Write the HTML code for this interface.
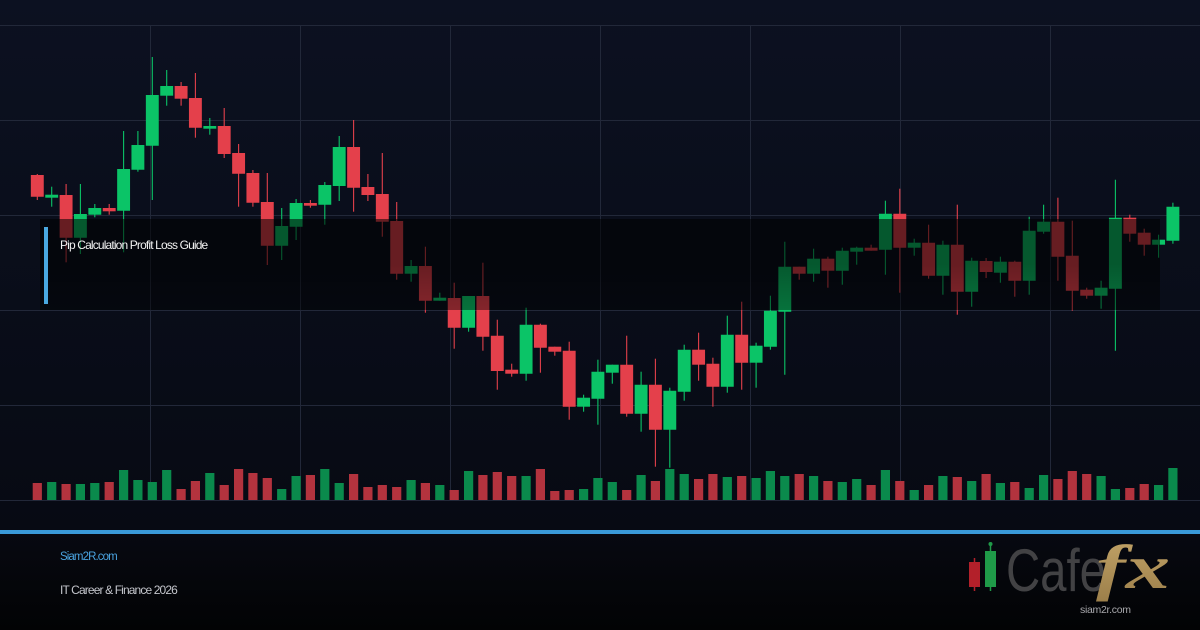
<!DOCTYPE html>
<html><head><meta charset="utf-8"><style>
html,body{margin:0;padding:0;background:#070a12;}
svg{display:block}
.u{fill:#0bc467;stroke:#0bc467;stroke-width:0}
.d{fill:#e4404b;stroke:#e4404b;stroke-width:0}
.u .w,.d .w{stroke-width:1.1;fill:none}
.vu{fill:#0a8a4c}
.vd{fill:#b3333e}
</style></head><body>
<svg width="1200" height="630" viewBox="0 0 1200 630" xmlns="http://www.w3.org/2000/svg">
<defs>
<linearGradient id="bg" x1="0" y1="0" x2="0" y2="1">
<stop offset="0" stop-color="#0c1121"/><stop offset="1" stop-color="#070a13"/>
</linearGradient>
<linearGradient id="ft" x1="0" y1="0" x2="0" y2="1">
<stop offset="0" stop-color="#070911"/><stop offset="1" stop-color="#020304"/>
</linearGradient>
<linearGradient id="ov" x1="0" y1="0" x2="0" y2="1">
<stop offset="0" stop-color="#000" stop-opacity="0.55"/><stop offset="0.5" stop-color="#000" stop-opacity="0.55"/><stop offset="1" stop-color="#000" stop-opacity="0.42"/>
</linearGradient>
<linearGradient id="gold" x1="0" y1="0" x2="0" y2="1">
<stop offset="0" stop-color="#c2a468"/><stop offset="1" stop-color="#9c7f4a"/>
</linearGradient>
</defs>
<rect x="0" y="0" width="1200" height="530" fill="url(#bg)"/>
<rect x="0" y="534" width="1200" height="96" fill="url(#ft)"/>
<rect x="0" y="530" width="1200" height="4" fill="#3a9ad9"/>
<g stroke="#222839" stroke-width="1" fill="none">
<path d="M0 25.5H1200M0 120.5H1200M0 215.5H1200M0 310.5H1200M0 405.5H1200M0 500.5H1200"/>
<path d="M150.5 25V500M300.5 25V500M450.5 25V500M600.5 25V500M750.5 25V500M900.5 25V500M1050.5 25V500"/>
</g>
<g>
<g class="d" transform="translate(37.3)"><path class="w" d="M0 174V200"/><path d="M-6.45 175H6.45V196.7H-6.45Z"/><path class="vd" d="M-4.6 483H4.6V500H-4.6Z"/></g>
<g class="u" transform="translate(51.7)"><path class="w" d="M0 186.7V206.7"/><path d="M-6.45 194.7H6.45V197.7H-6.45Z"/><path class="vu" d="M-4.6 482H4.6V500H-4.6Z"/></g>
<g class="d" transform="translate(66.1)"><path class="w" d="M0 184V262.3"/><path d="M-6.45 195H6.45V237.7H-6.45Z"/><path class="vd" d="M-4.6 484H4.6V500H-4.6Z"/></g>
<g class="u" transform="translate(80.4)"><path class="w" d="M0 184V254"/><path d="M-6.45 214H6.45V237.7H-6.45Z"/><path class="vu" d="M-4.6 484H4.6V500H-4.6Z"/></g>
<g class="u" transform="translate(94.8)"><path class="w" d="M0 204V217.3"/><path d="M-6.45 208H6.45V214.7H-6.45Z"/><path class="vu" d="M-4.6 483H4.6V500H-4.6Z"/></g>
<g class="d" transform="translate(109.2)"><path class="w" d="M0 204V214.7"/><path d="M-6.45 208H6.45V211.3H-6.45Z"/><path class="vd" d="M-4.6 482H4.6V500H-4.6Z"/></g>
<g class="u" transform="translate(123.6)"><path class="w" d="M0 131V252.3"/><path d="M-6.45 169H6.45V210.7H-6.45Z"/><path class="vu" d="M-4.6 470H4.6V500H-4.6Z"/></g>
<g class="u" transform="translate(137.9)"><path class="w" d="M0 131V171.7"/><path d="M-6.45 145H6.45V169.7H-6.45Z"/><path class="vu" d="M-4.6 480H4.6V500H-4.6Z"/></g>
<g class="u" transform="translate(152.3)"><path class="w" d="M0 57V200"/><path d="M-6.45 95H6.45V145.7H-6.45Z"/><path class="vu" d="M-4.6 482H4.6V500H-4.6Z"/></g>
<g class="u" transform="translate(166.7)"><path class="w" d="M0 70V105.7"/><path d="M-6.45 86H6.45V95.7H-6.45Z"/><path class="vu" d="M-4.6 470H4.6V500H-4.6Z"/></g>
<g class="d" transform="translate(181.1)"><path class="w" d="M0 82V105.7"/><path d="M-6.45 86H6.45V98.7H-6.45Z"/><path class="vd" d="M-4.6 489H4.6V500H-4.6Z"/></g>
<g class="d" transform="translate(195.4)"><path class="w" d="M0 73V137.7"/><path d="M-6.45 98H6.45V127.7H-6.45Z"/><path class="vd" d="M-4.6 481H4.6V500H-4.6Z"/></g>
<g class="u" transform="translate(209.8)"><path class="w" d="M0 118V134.7"/><path d="M-6.45 126H6.45V128.7H-6.45Z"/><path class="vu" d="M-4.6 473H4.6V500H-4.6Z"/></g>
<g class="d" transform="translate(224.2)"><path class="w" d="M0 108V158"/><path d="M-6.45 126H6.45V154H-6.45Z"/><path class="vd" d="M-4.6 485H4.6V500H-4.6Z"/></g>
<g class="d" transform="translate(238.6)"><path class="w" d="M0 144V206.7"/><path d="M-6.45 153H6.45V173.7H-6.45Z"/><path class="vd" d="M-4.6 469H4.6V500H-4.6Z"/></g>
<g class="d" transform="translate(252.9)"><path class="w" d="M0 170V206.7"/><path d="M-6.45 173H6.45V202.7H-6.45Z"/><path class="vd" d="M-4.6 473H4.6V500H-4.6Z"/></g>
<g class="d" transform="translate(267.3)"><path class="w" d="M0 173V265"/><path d="M-6.45 202H6.45V245.7H-6.45Z"/><path class="vd" d="M-4.6 478H4.6V500H-4.6Z"/></g>
<g class="u" transform="translate(281.7)"><path class="w" d="M0 208V260"/><path d="M-6.45 226H6.45V245.7H-6.45Z"/><path class="vu" d="M-4.6 489H4.6V500H-4.6Z"/></g>
<g class="u" transform="translate(296.1)"><path class="w" d="M0 199V240"/><path d="M-6.45 203H6.45V226.7H-6.45Z"/><path class="vu" d="M-4.6 476H4.6V500H-4.6Z"/></g>
<g class="d" transform="translate(310.4)"><path class="w" d="M0 200V207.7"/><path d="M-6.45 203H6.45V205.7H-6.45Z"/><path class="vd" d="M-4.6 475H4.6V500H-4.6Z"/></g>
<g class="u" transform="translate(324.8)"><path class="w" d="M0 182V224.7"/><path d="M-6.45 185H6.45V204.7H-6.45Z"/><path class="vu" d="M-4.6 469H4.6V500H-4.6Z"/></g>
<g class="u" transform="translate(339.2)"><path class="w" d="M0 136V201"/><path d="M-6.45 147H6.45V186H-6.45Z"/><path class="vu" d="M-4.6 483H4.6V500H-4.6Z"/></g>
<g class="d" transform="translate(353.6)"><path class="w" d="M0 120V211.7"/><path d="M-6.45 147H6.45V187.7H-6.45Z"/><path class="vd" d="M-4.6 474H4.6V500H-4.6Z"/></g>
<g class="d" transform="translate(367.9)"><path class="w" d="M0 174V201"/><path d="M-6.45 187H6.45V195H-6.45Z"/><path class="vd" d="M-4.6 487H4.6V500H-4.6Z"/></g>
<g class="d" transform="translate(382.3)"><path class="w" d="M0 153V236.7"/><path d="M-6.45 194H6.45V221.7H-6.45Z"/><path class="vd" d="M-4.6 485H4.6V500H-4.6Z"/></g>
<g class="d" transform="translate(396.7)"><path class="w" d="M0 202V279.7"/><path d="M-6.45 221H6.45V273.7H-6.45Z"/><path class="vd" d="M-4.6 487H4.6V500H-4.6Z"/></g>
<g class="u" transform="translate(411.1)"><path class="w" d="M0 260V281.7"/><path d="M-6.45 266H6.45V273.7H-6.45Z"/><path class="vu" d="M-4.6 480H4.6V500H-4.6Z"/></g>
<g class="d" transform="translate(425.4)"><path class="w" d="M0 246.7V312.7"/><path d="M-6.45 266H6.45V300.7H-6.45Z"/><path class="vd" d="M-4.6 483H4.6V500H-4.6Z"/></g>
<g class="u" transform="translate(439.8)"><path class="w" d="M0 292.7V300.7"/><path d="M-6.45 297.7H6.45V300.7H-6.45Z"/><path class="vu" d="M-4.6 485H4.6V500H-4.6Z"/></g>
<g class="d" transform="translate(454.2)"><path class="w" d="M0 282.7V348.7"/><path d="M-6.45 298H6.45V327.7H-6.45Z"/><path class="vd" d="M-4.6 490H4.6V500H-4.6Z"/></g>
<g class="u" transform="translate(468.6)"><path class="w" d="M0 296V331.7"/><path d="M-6.45 296H6.45V327.7H-6.45Z"/><path class="vu" d="M-4.6 471H4.6V500H-4.6Z"/></g>
<g class="d" transform="translate(482.9)"><path class="w" d="M0 262.7V350.7"/><path d="M-6.45 296H6.45V336.7H-6.45Z"/><path class="vd" d="M-4.6 475H4.6V500H-4.6Z"/></g>
<g class="d" transform="translate(497.3)"><path class="w" d="M0 319.7V389.7"/><path d="M-6.45 335.7H6.45V371H-6.45Z"/><path class="vd" d="M-4.6 472H4.6V500H-4.6Z"/></g>
<g class="d" transform="translate(511.7)"><path class="w" d="M0 363.7V376.7"/><path d="M-6.45 369.7H6.45V373.7H-6.45Z"/><path class="vd" d="M-4.6 476H4.6V500H-4.6Z"/></g>
<g class="u" transform="translate(526.1)"><path class="w" d="M0 307.7V380.7"/><path d="M-6.45 324.7H6.45V373.7H-6.45Z"/><path class="vu" d="M-4.6 476H4.6V500H-4.6Z"/></g>
<g class="d" transform="translate(540.4)"><path class="w" d="M0 323.7V372.7"/><path d="M-6.45 324.7H6.45V347.7H-6.45Z"/><path class="vd" d="M-4.6 469H4.6V500H-4.6Z"/></g>
<g class="d" transform="translate(554.8)"><path class="w" d="M0 346.7V355.7"/><path d="M-6.45 346.7H6.45V351.7H-6.45Z"/><path class="vd" d="M-4.6 491H4.6V500H-4.6Z"/></g>
<g class="d" transform="translate(569.2)"><path class="w" d="M0 341.7V419.7"/><path d="M-6.45 350.7H6.45V406.7H-6.45Z"/><path class="vd" d="M-4.6 490H4.6V500H-4.6Z"/></g>
<g class="u" transform="translate(583.6)"><path class="w" d="M0 394.7V411.7"/><path d="M-6.45 397.7H6.45V406.7H-6.45Z"/><path class="vu" d="M-4.6 489H4.6V500H-4.6Z"/></g>
<g class="u" transform="translate(597.9)"><path class="w" d="M0 359.7V424.7"/><path d="M-6.45 371.7H6.45V398.7H-6.45Z"/><path class="vu" d="M-4.6 478H4.6V500H-4.6Z"/></g>
<g class="u" transform="translate(612.3)"><path class="w" d="M0 364.7V383.7"/><path d="M-6.45 364.7H6.45V372.7H-6.45Z"/><path class="vu" d="M-4.6 482H4.6V500H-4.6Z"/></g>
<g class="d" transform="translate(626.7)"><path class="w" d="M0 335.7V416.7"/><path d="M-6.45 364.7H6.45V413.7H-6.45Z"/><path class="vd" d="M-4.6 490H4.6V500H-4.6Z"/></g>
<g class="u" transform="translate(641.1)"><path class="w" d="M0 371.7V431.7"/><path d="M-6.45 384.7H6.45V413.7H-6.45Z"/><path class="vu" d="M-4.6 475H4.6V500H-4.6Z"/></g>
<g class="d" transform="translate(655.4)"><path class="w" d="M0 358.7V466.7"/><path d="M-6.45 384.7H6.45V429.7H-6.45Z"/><path class="vd" d="M-4.6 481H4.6V500H-4.6Z"/></g>
<g class="u" transform="translate(669.8)"><path class="w" d="M0 387.7V467.7"/><path d="M-6.45 390.7H6.45V429.7H-6.45Z"/><path class="vu" d="M-4.6 469H4.6V500H-4.6Z"/></g>
<g class="u" transform="translate(684.2)"><path class="w" d="M0 344.7V400.7"/><path d="M-6.45 349.7H6.45V391.7H-6.45Z"/><path class="vu" d="M-4.6 474H4.6V500H-4.6Z"/></g>
<g class="d" transform="translate(698.6)"><path class="w" d="M0 332.7V380.7"/><path d="M-6.45 349.7H6.45V364.7H-6.45Z"/><path class="vd" d="M-4.6 479H4.6V500H-4.6Z"/></g>
<g class="d" transform="translate(712.9)"><path class="w" d="M0 357.7V406.7"/><path d="M-6.45 363.7H6.45V386.7H-6.45Z"/><path class="vd" d="M-4.6 474H4.6V500H-4.6Z"/></g>
<g class="u" transform="translate(727.3)"><path class="w" d="M0 315.7V392.7"/><path d="M-6.45 334.7H6.45V386.7H-6.45Z"/><path class="vu" d="M-4.6 477H4.6V500H-4.6Z"/></g>
<g class="d" transform="translate(741.7)"><path class="w" d="M0 301.7V389.7"/><path d="M-6.45 334.7H6.45V362.7H-6.45Z"/><path class="vd" d="M-4.6 476H4.6V500H-4.6Z"/></g>
<g class="u" transform="translate(756.1)"><path class="w" d="M0 342.7V387.7"/><path d="M-6.45 345.7H6.45V362.7H-6.45Z"/><path class="vu" d="M-4.6 478H4.6V500H-4.6Z"/></g>
<g class="u" transform="translate(770.4)"><path class="w" d="M0 295.7V349.7"/><path d="M-6.45 310.7H6.45V346.7H-6.45Z"/><path class="vu" d="M-4.6 471H4.6V500H-4.6Z"/></g>
<g class="u" transform="translate(784.8)"><path class="w" d="M0 241.7V374.7"/><path d="M-6.45 266.7H6.45V311.7H-6.45Z"/><path class="vu" d="M-4.6 476H4.6V500H-4.6Z"/></g>
<g class="d" transform="translate(799.2)"><path class="w" d="M0 266.7V279.7"/><path d="M-6.45 266.7H6.45V273.7H-6.45Z"/><path class="vd" d="M-4.6 474H4.6V500H-4.6Z"/></g>
<g class="u" transform="translate(813.6)"><path class="w" d="M0 248.7V281.7"/><path d="M-6.45 258.7H6.45V273.7H-6.45Z"/><path class="vu" d="M-4.6 476H4.6V500H-4.6Z"/></g>
<g class="d" transform="translate(827.9)"><path class="w" d="M0 256.7V287.7"/><path d="M-6.45 258.7H6.45V270.7H-6.45Z"/><path class="vd" d="M-4.6 481H4.6V500H-4.6Z"/></g>
<g class="u" transform="translate(842.3)"><path class="w" d="M0 247.7V284.7"/><path d="M-6.45 250.7H6.45V270.7H-6.45Z"/><path class="vu" d="M-4.6 482H4.6V500H-4.6Z"/></g>
<g class="u" transform="translate(856.7)"><path class="w" d="M0 246.7V264.7"/><path d="M-6.45 247.7H6.45V251.7H-6.45Z"/><path class="vu" d="M-4.6 479H4.6V500H-4.6Z"/></g>
<g class="d" transform="translate(871.1)"><path class="w" d="M0 244.7V250.7"/><path d="M-6.45 247.7H6.45V250.7H-6.45Z"/><path class="vd" d="M-4.6 485H4.6V500H-4.6Z"/></g>
<g class="u" transform="translate(885.4)"><path class="w" d="M0 200.7V274.7"/><path d="M-6.45 213.7H6.45V249.7H-6.45Z"/><path class="vu" d="M-4.6 470H4.6V500H-4.6Z"/></g>
<g class="d" transform="translate(899.8)"><path class="w" d="M0 188.7V292.7"/><path d="M-6.45 213.7H6.45V247.7H-6.45Z"/><path class="vd" d="M-4.6 481H4.6V500H-4.6Z"/></g>
<g class="u" transform="translate(914.2)"><path class="w" d="M0 238.7V255.7"/><path d="M-6.45 242.7H6.45V247.7H-6.45Z"/><path class="vu" d="M-4.6 490H4.6V500H-4.6Z"/></g>
<g class="d" transform="translate(928.6)"><path class="w" d="M0 224.7V278.7"/><path d="M-6.45 242.7H6.45V275.7H-6.45Z"/><path class="vd" d="M-4.6 485H4.6V500H-4.6Z"/></g>
<g class="u" transform="translate(942.9)"><path class="w" d="M0 240.7V294.7"/><path d="M-6.45 244.7H6.45V275.7H-6.45Z"/><path class="vu" d="M-4.6 476H4.6V500H-4.6Z"/></g>
<g class="d" transform="translate(957.3)"><path class="w" d="M0 204.7V314.7"/><path d="M-6.45 244.7H6.45V291.7H-6.45Z"/><path class="vd" d="M-4.6 477H4.6V500H-4.6Z"/></g>
<g class="u" transform="translate(971.7)"><path class="w" d="M0 257.7V306.7"/><path d="M-6.45 260.7H6.45V291.7H-6.45Z"/><path class="vu" d="M-4.6 481H4.6V500H-4.6Z"/></g>
<g class="d" transform="translate(986.1)"><path class="w" d="M0 258V278"/><path d="M-6.45 261H6.45V272H-6.45Z"/><path class="vd" d="M-4.6 474H4.6V500H-4.6Z"/></g>
<g class="u" transform="translate(1000.4)"><path class="w" d="M0 256.7V282.7"/><path d="M-6.45 261.7H6.45V272.7H-6.45Z"/><path class="vu" d="M-4.6 483H4.6V500H-4.6Z"/></g>
<g class="d" transform="translate(1014.8)"><path class="w" d="M0 260.7V296.7"/><path d="M-6.45 261.7H6.45V280.7H-6.45Z"/><path class="vd" d="M-4.6 482H4.6V500H-4.6Z"/></g>
<g class="u" transform="translate(1029.2)"><path class="w" d="M0 216.7V294.7"/><path d="M-6.45 230.7H6.45V280.7H-6.45Z"/><path class="vu" d="M-4.6 488H4.6V500H-4.6Z"/></g>
<g class="u" transform="translate(1043.6)"><path class="w" d="M0 204.7V233.7"/><path d="M-6.45 221.7H6.45V231.7H-6.45Z"/><path class="vu" d="M-4.6 475H4.6V500H-4.6Z"/></g>
<g class="d" transform="translate(1057.9)"><path class="w" d="M0 197.7V280.7"/><path d="M-6.45 221.7H6.45V256.7H-6.45Z"/><path class="vd" d="M-4.6 479H4.6V500H-4.6Z"/></g>
<g class="d" transform="translate(1072.3)"><path class="w" d="M0 220.7V310.7"/><path d="M-6.45 255.7H6.45V290.7H-6.45Z"/><path class="vd" d="M-4.6 471H4.6V500H-4.6Z"/></g>
<g class="d" transform="translate(1086.7)"><path class="w" d="M0 287.7V298.7"/><path d="M-6.45 289.7H6.45V295.7H-6.45Z"/><path class="vd" d="M-4.6 474H4.6V500H-4.6Z"/></g>
<g class="u" transform="translate(1101.1)"><path class="w" d="M0 280.7V308.7"/><path d="M-6.45 287.7H6.45V295.7H-6.45Z"/><path class="vu" d="M-4.6 476H4.6V500H-4.6Z"/></g>
<g class="u" transform="translate(1115.4)"><path class="w" d="M0 179.7V350.7"/><path d="M-6.45 217.7H6.45V288.7H-6.45Z"/><path class="vu" d="M-4.6 489H4.6V500H-4.6Z"/></g>
<g class="d" transform="translate(1129.8)"><path class="w" d="M0 214.7V241.7"/><path d="M-6.45 217.7H6.45V233.7H-6.45Z"/><path class="vd" d="M-4.6 488H4.6V500H-4.6Z"/></g>
<g class="d" transform="translate(1144.2)"><path class="w" d="M0 228.7V255.7"/><path d="M-6.45 232.7H6.45V244.7H-6.45Z"/><path class="vd" d="M-4.6 484H4.6V500H-4.6Z"/></g>
<g class="u" transform="translate(1158.6)"><path class="w" d="M0 234.7V257.7"/><path d="M-6.45 239.7H6.45V244.7H-6.45Z"/><path class="vu" d="M-4.6 485H4.6V500H-4.6Z"/></g>
<g class="u" transform="translate(1172.9)"><path class="w" d="M0 202.7V243.7"/><path d="M-6.45 206.7H6.45V240.7H-6.45Z"/><path class="vu" d="M-4.6 468H4.6V500H-4.6Z"/></g>
</g>
<rect x="40" y="219" width="1120" height="91" fill="url(#ov)"/>
<rect x="44" y="227" width="4" height="77" fill="#4aa8e0"/>
<text x="60" y="249" font-family="Liberation Sans, Arial, sans-serif" font-size="12" letter-spacing="-0.85" fill="#f2f2f2">Pip Calculation Profit Loss Guide</text>
<text x="60" y="560" font-family="Liberation Sans, Arial, sans-serif" font-size="11.5" letter-spacing="-0.9" fill="#4aa3df">Siam2R.com</text>
<text x="60" y="594" font-family="Liberation Sans, Arial, sans-serif" font-size="12" letter-spacing="-0.87" fill="#c4c6cc">IT Career &amp; Finance 2026</text>
<g>
<path d="M974.5 558V591" stroke="#b3202a" stroke-width="1.5"/>
<rect x="969" y="562" width="11" height="25" fill="#b3202a"/>
<path d="M990.5 543V591" stroke="#1f9a48" stroke-width="1.5"/>
<circle cx="990.5" cy="544" r="2" fill="#1f9a48"/>
<rect x="985" y="551" width="11" height="36" fill="#1f9a48"/>
<text x="1006" y="591" font-family="Liberation Sans, Arial, sans-serif" font-size="60" textLength="100" lengthAdjust="spacingAndGlyphs" fill="#424244">Cafe</text>
<text x="1096" y="588" font-family="Liberation Serif, serif" font-style="italic" font-weight="bold" font-size="62" textLength="74" lengthAdjust="spacingAndGlyphs" fill="url(#gold)">fx</text>
<text x="1080" y="613" font-family="Liberation Sans, Arial, sans-serif" font-size="10.5" letter-spacing="-0.3" fill="#a8a8ac">siam2r.com</text>
</g>
</svg>
</body></html>
